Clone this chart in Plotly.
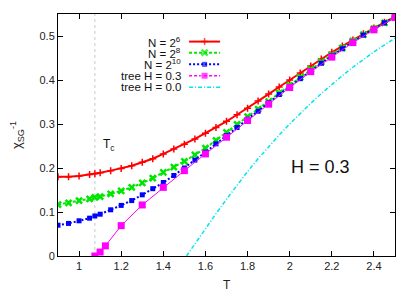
import plotly.graph_objects as go

# ---- data ----
T_N = [0.9, 0.95, 1.0, 1.05, 1.075, 1.1, 1.15, 1.2, 1.25, 1.3, 1.35, 1.4, 1.45, 1.5, 1.55, 1.6,
       1.65, 1.7, 1.75, 1.8, 1.85, 1.9, 1.95, 2.0, 2.05, 2.1, 2.15, 2.2, 2.25, 2.3, 2.35, 2.4, 2.45, 2.5]
chi_N64 = [0.180, 0.180, 0.182, 0.185, 0.187, 0.189, 0.194, 0.199, 0.205, 0.213, 0.221, 0.232, 0.243,
           0.254, 0.266, 0.279, 0.292, 0.306, 0.321, 0.336, 0.352, 0.368, 0.384, 0.400, 0.416, 0.432,
           0.448, 0.463, 0.477, 0.491, 0.505, 0.518, 0.531, 0.544]
chi_N256 = [0.117, 0.121, 0.126, 0.130, 0.133, 0.135, 0.141, 0.148, 0.156, 0.166, 0.177, 0.190, 0.202,
            0.215, 0.230, 0.245, 0.263, 0.281, 0.299, 0.317, 0.334, 0.351, 0.370, 0.388, 0.406, 0.424,
            0.441, 0.457, 0.473, 0.489, 0.503, 0.517, 0.530, 0.543]
chi_N1024 = [0.070, 0.074, 0.080, 0.086, 0.091, 0.095, 0.105, 0.115, 0.126, 0.139, 0.153, 0.167, 0.183,
             0.200, 0.218, 0.236, 0.255, 0.274, 0.292, 0.311, 0.329, 0.348, 0.367, 0.385, 0.403, 0.421,
             0.438, 0.455, 0.471, 0.487, 0.502, 0.516, 0.530, 0.543]
T_tree03 = [1.075, 1.1, 1.125, 1.2, 1.3, 1.4, 1.5, 1.6, 1.7, 1.8, 1.9, 2.0, 2.1, 2.2, 2.3, 2.4, 2.5]
chi_tree03 = [0.0, 0.009, 0.023, 0.069, 0.116, 0.156, 0.194, 0.232, 0.270, 0.308, 0.345, 0.383,
              0.419, 0.452, 0.485, 0.514, 0.542]
T_tree00 = [1.51, 1.55, 1.6, 1.65, 1.7, 1.75, 1.8, 1.85, 1.9, 1.95, 2.0, 2.05, 2.1, 2.15, 2.2, 2.25,
            2.3, 2.35, 2.4, 2.45, 2.5]
chi_tree00 = [0.0, 0.028, 0.062, 0.096, 0.129, 0.161, 0.192, 0.221, 0.249, 0.275, 0.300, 0.324, 0.347,
              0.369, 0.390, 0.410, 0.429, 0.447, 0.464, 0.480, 0.495]
Tc = 1.075
x_ticks = [1.0, 1.2, 1.4, 1.6, 1.8, 2.0, 2.2, 2.4]
x_tick_text = ["1", "1.2", "1.4", "1.6", "1.8", "2", "2.2", "2.4"]
y_ticks = [0, 0.1, 0.2, 0.3, 0.4, 0.5]
y_tick_text = ["0", "0.1", "0.2", "0.3", "0.4", "0.5"]
series_names = ["N = 2<sup>6</sup>", "N = 2<sup>8</sup>", "N = 2<sup>10</sup>", "tree H = 0.3", "tree H = 0.0"]
field_label = "H = 0.3"
x_title = "T"
y_title = "χ<sub>SG</sub><sup>-1</sup>"

RED, GREEN, BLUE, MAG, CYAN = "#ff0000", "#00e600", "#0000ff", "#ff00ff", "#00e5ee"
FONT = "Liberation Sans, Arial, sans-serif"

styles = [
    dict(line=dict(color=RED, width=2, dash="solid"),
         marker=dict(symbol="cross-thin", size=5, line=dict(color=RED, width=1.5)), mode="lines+markers"),
    dict(line=dict(color=GREEN, width=2, dash="3px,2px"),
         marker=dict(symbol="x-thin", size=6, line=dict(color=GREEN, width=2.5)), mode="lines+markers"),
    dict(line=dict(color=BLUE, width=2, dash="2px,2px"),
         marker=dict(symbol="square", size=5, color=BLUE, line=dict(width=0)), mode="lines+markers"),
    dict(line=dict(color=MAG, width=1, dash="solid"),
         marker=dict(symbol="square", size=7, color=MAG), mode="lines+markers"),
    dict(line=dict(color=CYAN, width=1.5, dash="4px,2px,1px,2px"), mode="lines"),
]

fig = go.Figure()
data_sets = [(T_N, chi_N64), (T_N, chi_N256), (T_N, chi_N1024), (T_tree03, chi_tree03), (T_tree00, chi_tree00)]
for (xs, ys), st, nm in zip(data_sets, styles, series_names):
    fig.add_trace(go.Scatter(x=xs, y=ys, name=nm, showlegend=False, hoverinfo="skip", **st))

# custom gnuplot-style legend (text left, sample right) on a hidden overlay axis
leg_rows = [0.886, 0.840, 0.792, 0.745, 0.697]
lx0, lx1 = 0.389, 0.481
for i, (row, st, nm) in enumerate(zip(leg_rows, styles, series_names)):
    st2 = dict(st)
    if i == 3:
        st2["line"] = dict(color=MAG, width=1.5, dash="3px,2px")
    if "marker" in st2:
        m = dict(st2["marker"])
        m["size"] = [0, m["size"], 0]
        st2["marker"] = m
        xs = [lx0, (lx0 + lx1) / 2, lx1]
        ys = [row, row, row]
    else:
        xs = [lx0, lx1]
        ys = [row, row]
    fig.add_trace(go.Scatter(x=xs, y=ys, xaxis="x2", yaxis="y2", showlegend=False,
                             hoverinfo="skip", **st2))
    fig.add_annotation(x=0.368, y=row, xref="paper", yref="paper", text=nm, showarrow=False,
                       xanchor="right", yanchor="middle", borderpad=0,
                       font=dict(size=11.5, color="#111", family=FONT))

# Tc line
fig.add_shape(type="line", x0=Tc, x1=Tc, y0=0, y1=1, xref="x", yref="paper",
              line=dict(color="#c8c8c8", width=1, dash="dot"), layer="below")
fig.add_annotation(x=Tc, y=0.253, xref="x", yref="y", text="T<sub>c</sub>", showarrow=False,
                   xanchor="left", yanchor="middle", xshift=6, font=dict(size=12, color="#111", family=FONT))
fig.add_annotation(x=2.145, y=0.202, xref="x", yref="y", text=field_label, showarrow=False,
                   xanchor="center", yanchor="middle", font=dict(size=18, color="#111", family=FONT))
# x-axis title placed like the reference (below the tick labels)
fig.add_annotation(x=0.5, y=-0.12, xref="paper", yref="paper", text=x_title, showarrow=False,
                   xanchor="center", yanchor="middle", font=dict(size=12, color="#222", family=FONT))

axis_common = dict(showline=True, linecolor="black", linewidth=1, mirror="ticks", ticks="inside",
                   ticklen=5, tickcolor="black", showgrid=False, zeroline=False, automargin=False,
                   tickfont=dict(size=11, color="#222", family=FONT))
# page body adds an 8px offset; the figure is sized so the plot box lands where the reference has it
fig.update_layout(
    width=407, height=283, margin=dict(l=50, r=20, t=6, b=35),
    paper_bgcolor="white", plot_bgcolor="white", font=dict(family=FONT),
    xaxis=dict(range=[0.9, 2.5], tickvals=x_ticks, ticktext=x_tick_text, **axis_common),
    yaxis=dict(range=[0, 0.55], tickvals=y_ticks, ticktext=y_tick_text,
               title=dict(text=y_title, font=dict(size=13, color="#222"), standoff=14),
               **axis_common),
    xaxis2=dict(overlaying="x", range=[0, 1], visible=False),
    yaxis2=dict(overlaying="y", range=[0, 1], visible=False),
    showlegend=False,
)
fig.write_html("out.html")
